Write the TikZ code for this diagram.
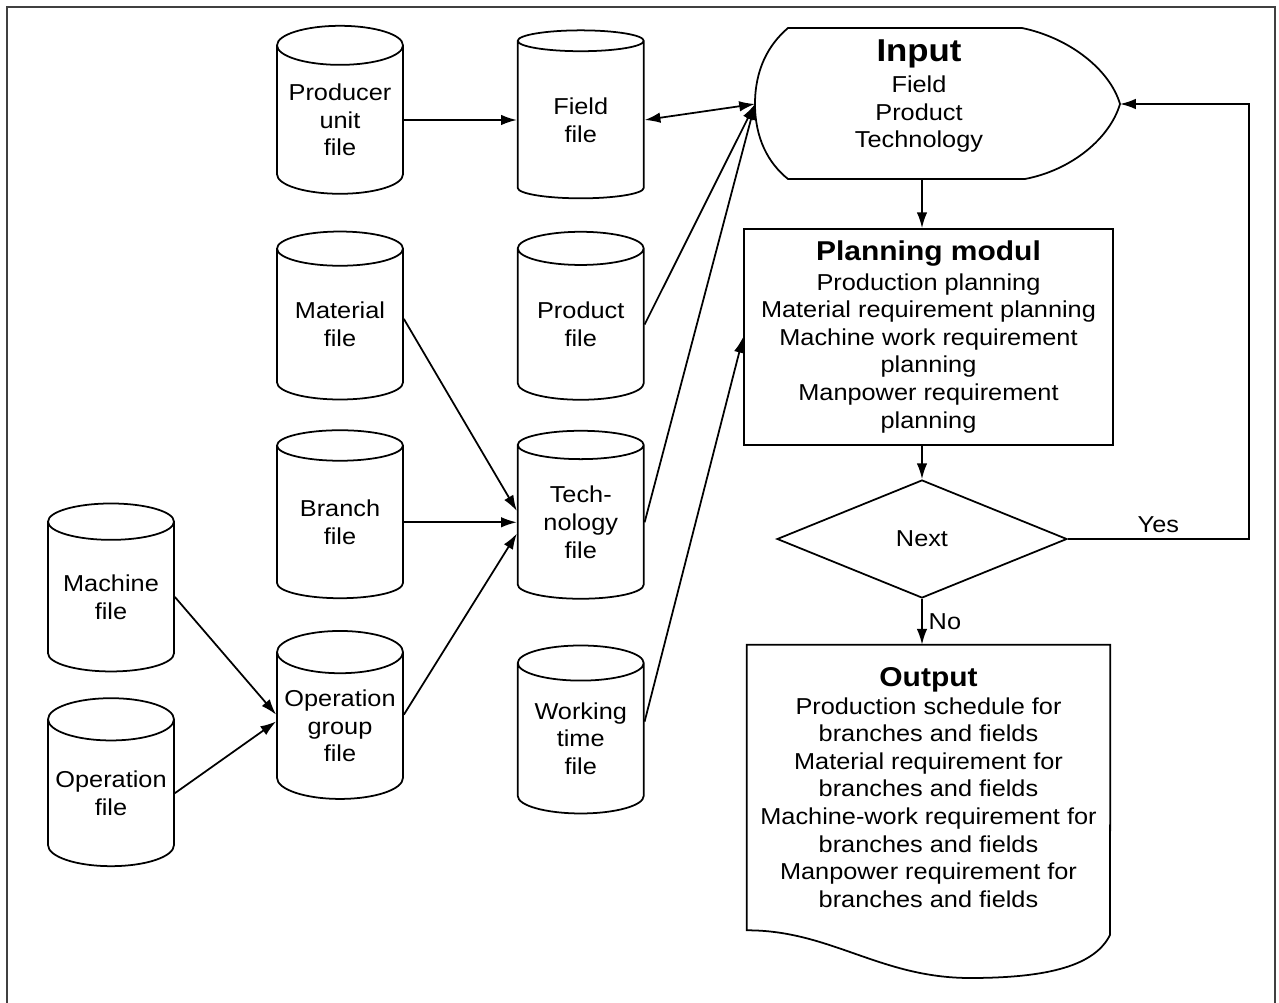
\documentclass[tikz,border=0pt]{standalone}
\usepackage{fontspec}
\setmainfont{Liberation Sans}[FakeStretch=1.1]
\usetikzlibrary{shapes.geometric,arrows.meta,positioning,calc}
\newcommand{\bodyfont}{\fontsize{13.1}{15.7}\selectfont}
\newcommand{\headtext}[2]{{\fontsize{#1}{#1}\selectfont\bfseries #2}}
\tikzstyle{file}=[draw, line width=1pt, cylinder, shape border rotate=90, aspect=0.38,
	minimum width=2.52cm, minimum height=3.36cm, align=center, inner sep=0pt]
\tikzstyle{block}=[draw, line width=1pt, align=center]
\tikzstyle{arrow}=[line width=1pt,->,>={Latex[length=9pt,width=6pt]}]
\tikzstyle{dblarrow}=[line width=1pt,<->,>={Latex[length=9pt,width=6pt]}]

\begin{document}
\begin{tikzpicture}[x=0.02cm,y=-0.02cm,font=\bodyfont]
\useasboundingbox (0,0) rectangle (1279,1003);
\draw[line width=0.8pt,black!75] (7,1003)--(7,7)--(1275,7)--(1275,1003);

% files
\node (producer) [file] at (340,120) {Producer\\unit\\file};
\node (field) [file, right=2.26cm of producer] {Field\\file};
\node (material) [file, below=0.72cm of producer] {Material\\file};
\node (product) [file, right=2.26cm of material] {Product\\file};
\node (branch) [file, below=0.58cm of material] {Branch\\file};
\node (tech) [file, right=2.26cm of branch] {Tech-\\nology\\file};
\node (opgroup) [file, below=0.62cm of branch] {Operation\\group\\file};
\node (working) [file, below=0.9cm of tech] {Working\\time\\file};
\node (machine) [file] at (111,597) {Machine\\file};
\node (operation) [file, below=0.5cm of machine] {Operation\\file};

% input
\node (input) [align=center] at (919,96) {\headtext{18}{Input}\\[2pt]Field\\Product\\Technology};
\draw[line width=1pt] (788,28)--(1022,28) .. controls (1070,38) and (1110,70) .. (1120,104) coordinate (inR)
	.. controls (1110,138) and (1072,170) .. (1025,179) -- (788,179)
	.. controls (768,163) and (755,138) .. (755,104) coordinate (inL)
	.. controls (755,70) and (768,45) .. (788,28) -- cycle;
\coordinate (inB) at (922,179);

\node (planning) [block, minimum width=7.38cm, minimum height=4.32cm] at (928.5,337)
	{\headtext{15.5}{Planning modul}\\[1pt]Production planning\\Material requirement planning\\
	Machine work requirement\\planning\\Manpower requirement\\planning};
\node (next) [draw, line width=1pt, diamond, aspect=2.5, minimum width=5.8cm, minimum height=2.36cm,
	inner sep=0pt] at (922,539) {Next};

% output
\node (output) [minimum width=7.26cm, minimum height=5.7cm, align=center] at (928.5,787.5)
	{\headtext{15.5}{Output}\\Production schedule for\\branches and fields\\
	Material requirement for\\branches and fields\\Machine-work requirement for\\
	branches and fields\\Manpower requirement for\\branches and fields};
\draw[line width=1pt] (output.south west)--(output.north west)--(output.north east)--(1110,935)
	.. controls (1095,965) and (1050,978) .. (970,978)
	.. controls (880,978) and (830,930) .. (output.south west) -- cycle;

\draw[arrow] (producer.east)--(field.west);
\draw[dblarrow] (field.east)--(inL);
\draw[arrow] (product.east)--(inL);
\draw[arrow] (tech.east)--(inL);
\draw[arrow] (working.15)--(planning.west);
\draw[arrow] (material.5)--(tech.170);
\draw[arrow] (branch.east)--(tech.west);
\draw[arrow] (opgroup.10)--(tech.190);
\draw[arrow] (machine.east)--(opgroup.170);
\draw[arrow] (operation.east)--(opgroup.176);
\draw[arrow] (inB)--(inB |- planning.north);
\draw[arrow] (next.north |- planning.south)--(next.north);
\draw[arrow] (next.south)--node[right]{No}(next.south |- output.north);
\draw[arrow] (next.east)--node[above]{Yes} ++(181,0) |- (inR);
\end{tikzpicture}
\end{document}
